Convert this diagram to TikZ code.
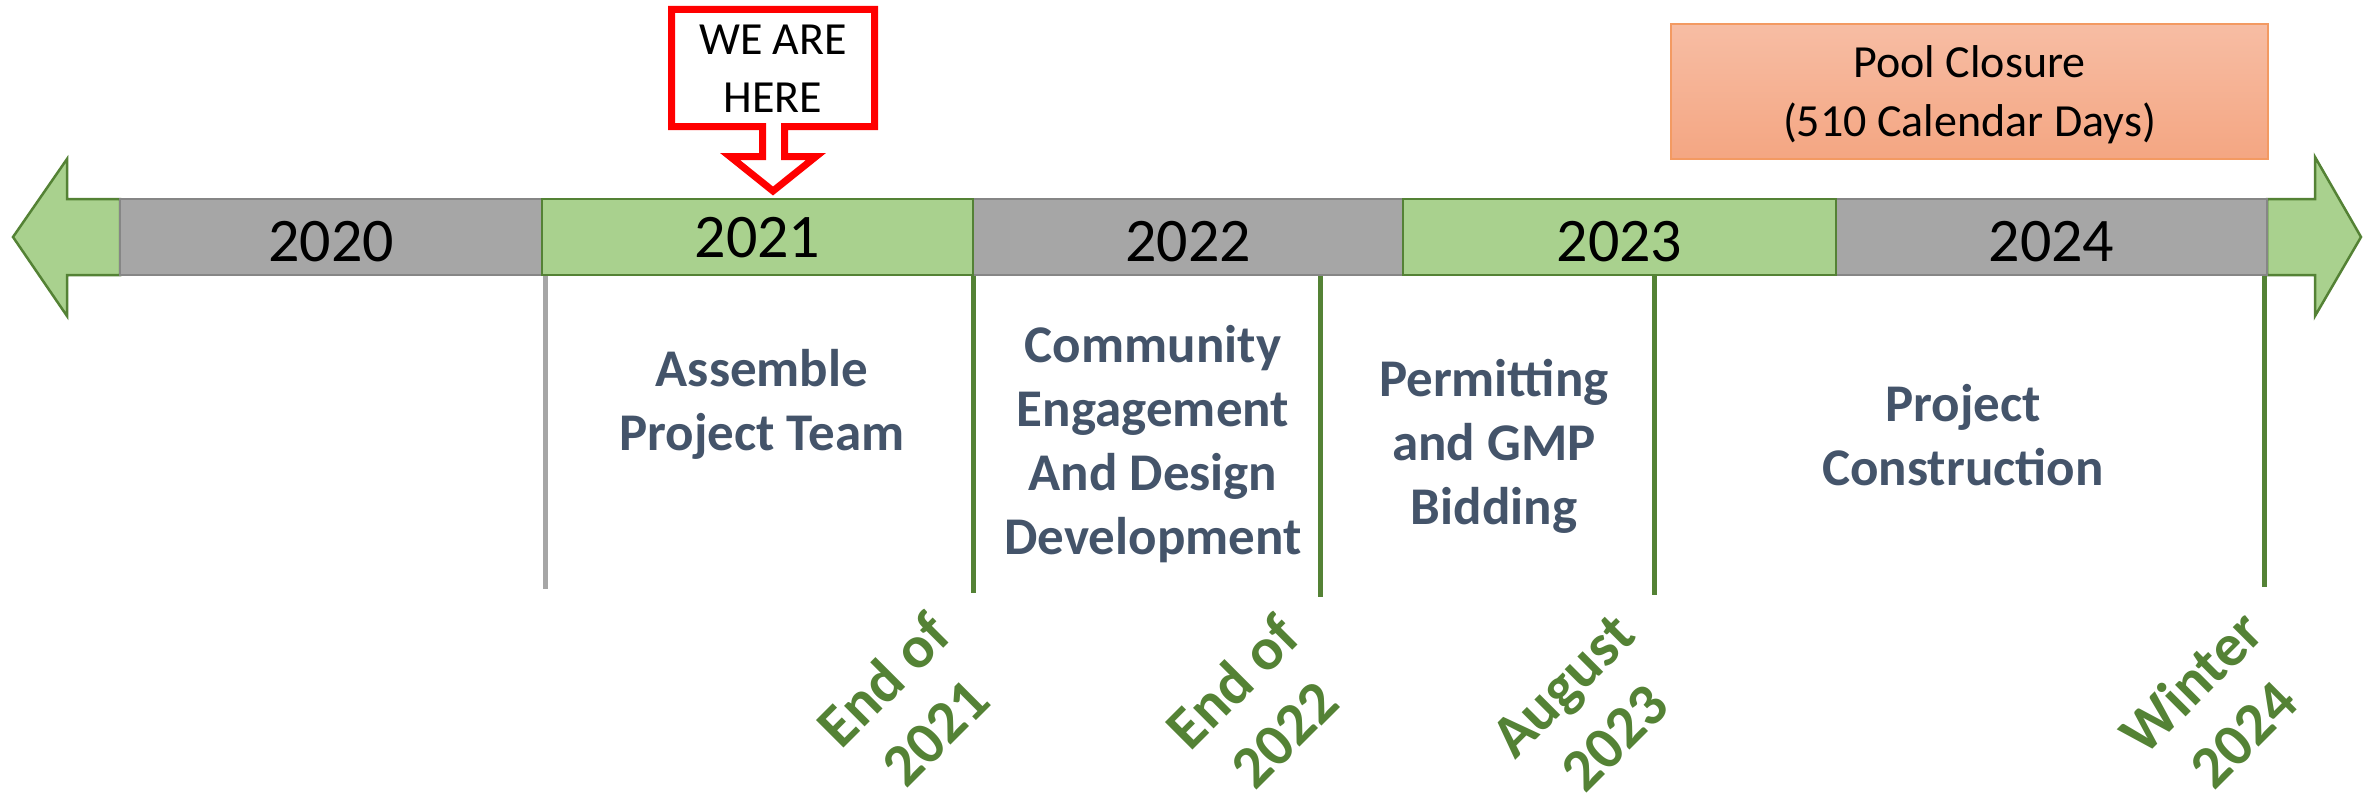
\documentclass[tikz,border=0pt]{standalone}
\usepackage{fontspec}
\setmainfont{Carlito}
\definecolor{bargray}{HTML}{A6A6A6}
\definecolor{barline}{HTML}{868686}
\definecolor{bargreen}{HTML}{A9D18E}
\definecolor{darkgreen}{HTML}{548235}
\definecolor{phase}{HTML}{44546A}
\definecolor{calloutred}{HTML}{FF0000}
\definecolor{pooltop}{HTML}{F7BDA4}
\definecolor{poolbot}{HTML}{F4A682}
\definecolor{pooledge}{HTML}{F39A62}
\begin{document}
\begin{tikzpicture}[x=1pt,y=-1pt,
  graybox/.style={fill=bargray, draw=barline, line width=2pt, minimum height=76pt, inner sep=0pt},
  greenbox/.style={fill=bargreen, draw=darkgreen, line width=2.5pt, minimum height=76pt, inner sep=0pt},
  yeartext/.style={font=\fontsize{62}{70}\selectfont, text=black, inner sep=0pt},
  phasetext/.style={font=\fontsize{53}{64}\selectfont\bfseries, text=phase, align=center, inner sep=0pt},
  miletext/.style={font=\fontsize{60}{74}\selectfont\bfseries, text=darkgreen, align=center, rotate=45, inner sep=0pt},
  arrowshape/.style={fill=bargreen, draw=darkgreen, line width=2.5pt, line join=miter},
  gline/.style={draw=darkgreen, line width=5pt},
  grline/.style={draw=bargray, line width=5pt},
  callout/.style={draw=calloutred, line width=7pt, fill=white, line join=miter},
  callouttext/.style={font=\fontsize{46}{58}\selectfont, text=black, align=center, inner sep=0pt},
  poolbox/.style={top color=pooltop, bottom color=poolbot, draw=pooledge, line width=2pt, inner sep=0pt},
  pooltext/.style={font=\fontsize{46}{59}\selectfont, text=black, align=center, inner sep=0pt},
]
\useasboundingbox (0,0) rectangle (2367,800);

% end arrows
\draw[arrowshape] (120,199) -- (67,199) -- (67,159) -- (13,237) -- (67,316) -- (67,275) -- (120,275) -- cycle;
\draw[arrowshape] (2267,199) -- (2315,199) -- (2315,157) -- (2361,237) -- (2315,316) -- (2315,275) -- (2267,275) -- cycle;

% year boxes
\node[graybox, minimum width=422pt] (b2020) at (331,237) {};
\node[graybox, minimum width=430pt] (b2022) at (1188,237) {};
\node[graybox, minimum width=431pt] (b2024) at (2051.5,237) {};
\node[greenbox, minimum width=431pt] (b2021) at (757.5,237) {};
\node[greenbox, minimum width=433pt] (b2023) at (1619.5,237) {};

\node[yeartext] (t2020) at (331,242) {2020};
\node[yeartext] (t2021) at (757.5,237.5) {2021};
\node[yeartext] (t2022) at (1188,242) {2022};
\node[yeartext] (t2023) at (1619.5,242) {2023};
\node[yeartext] (t2024) at (2051.5,242) {2024};

% vertical markers
\coordinate (g0) at (545,589);
\coordinate (m1) at (973,593);
\coordinate (m2) at (1320,597);
\coordinate (m3) at (1654,595);
\coordinate (m4) at (2264,587);
\draw[grline] (g0 |- b2021.south) -- (g0);
\draw[gline] (m1 |- b2021.south) -- (m1);
\draw[gline] (m2 |- b2022.south) -- (m2);
\draw[gline] (m3 |- b2023.south) -- (m3);
\draw[gline] (m4 |- b2024.south) -- (m4);

% phases
\node[phasetext] (p1) at (762,404) {Assemble\\Project Team};
\node[phasetext] (p2) at (1153,444) {Community\\Engagement\\And Design\\Development};
\node[phasetext] (p3) at (1494,446) {Permitting\\and GMP\\Bidding};
\node[phasetext] (p4) at (1963,435) {Project\\Construction};

% milestones
\node[miletext] (s1) at (909,706) {End of\\2021};
\node[miletext] (s2) at (1258,708) {End of\\2022};
\node[miletext] (s3) at (1589,712) {August\\2023};
\node[miletext] (s4) at (2217,708) {Winter\\2024};

% callout
\draw[callout] (671.5,9.5) -- (874.5,9.5) -- (874.5,126.5) -- (784.5,126.5) -- (784.5,156.5) -- (816,156.5) -- (773,191) -- (730,156.5) -- (762.5,156.5) -- (762.5,126.5) -- (671.5,126.5) -- cycle;
\node[callouttext] (here) at (773,69) {WE ARE\\HERE};

% pool closure
\node[poolbox, minimum width=597pt, minimum height=135pt] (pool) at (1969.5,91.5) {};
\node[pooltext] (pooltxt) at (1969.5,95) {Pool Closure\\(510 Calendar Days)};
\end{tikzpicture}
\end{document}
